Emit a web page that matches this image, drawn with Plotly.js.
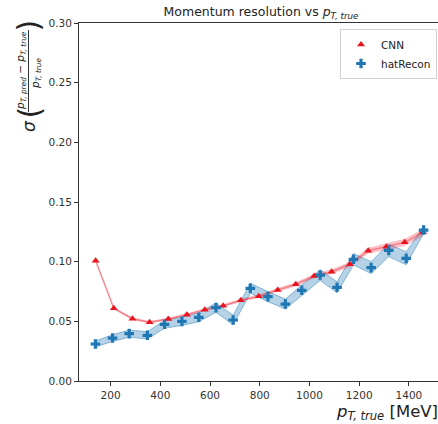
<!DOCTYPE html>
<html>
<head>
<meta charset="utf-8">
<script src="https://cdn.plot.ly/plotly-3.0.1.min.js"></script>
<style>
html,body{margin:0;padding:0;overflow:hidden;background:#fff;}
#chart{width:440px;height:424px;}
</style>
</head>
<body>
<div id="chart"></div>
<script>
// CNN series
const cnnX = [140,213,288,357,432,507,579,653,724,796,872,945,1019,1089,1163,1236,1309,1383,1457];
const cnnY = [0.1008,0.0609,0.0522,0.0492,0.0520,0.0556,0.0598,0.0631,0.0676,0.0710,0.0763,0.0810,0.0880,0.0916,0.0978,0.1092,0.1126,0.1162,0.1246];
const cnnErr = [0.0008,0.0009,0.0010,0.0010,0.0011,0.0012,0.0012,0.0013,0.0014,0.0015,0.0016,0.0018,0.0019,0.0020,0.0022,0.0025,0.0028,0.0030,0.0030];
// hatRecon series
const recX = [139,208,275,348,417,487,555,624,693,762,833,903,969,1043,1111,1177,1248,1319,1389,1459];
const recY = [0.0310,0.0360,0.0397,0.0383,0.0475,0.0500,0.0534,0.0615,0.0511,0.0777,0.0707,0.0645,0.0760,0.0888,0.0785,0.1020,0.0950,0.1095,0.1028,0.1265];
const recErr = [0.0025,0.0028,0.0030,0.0030,0.0033,0.0035,0.0037,0.0039,0.0041,0.0042,0.0042,0.0042,0.0044,0.0045,0.0046,0.0048,0.0050,0.0052,0.0054,0.0030];
// axis ticks
const xTicks = [200,400,600,800,1000,1200,1400];
const yTicks = [0.00,0.05,0.10,0.15,0.20,0.25,0.30];

const RED = '#e8141e';
const BLUE = '#1f77b4';
const FONT = 'DejaVu Sans';

const recLo = recY.map((v,i)=>v-recErr[i]);
const recHi = recY.map((v,i)=>v+recErr[i]);
const cnnLo = cnnY.map((v,i)=>v-cnnErr[i]);
const cnnHi = cnnY.map((v,i)=>v+cnnErr[i]);

const traces = [
  // blue band
  {x:recX, y:recLo, mode:'lines', line:{color:'rgba(31,119,180,0.45)', width:1}, showlegend:false, hoverinfo:'skip'},
  {x:recX, y:recHi, mode:'lines', line:{color:'rgba(31,119,180,0.45)', width:1}, fill:'tonexty', fillcolor:'rgba(31,119,180,0.33)', showlegend:false, hoverinfo:'skip'},
  // red band
  {x:cnnX, y:cnnLo, mode:'lines', line:{color:'rgba(240,40,50,0.0)', width:0}, showlegend:false, hoverinfo:'skip'},
  {x:cnnX, y:cnnHi, mode:'lines', line:{color:'rgba(240,40,50,0.0)', width:0}, fill:'tonexty', fillcolor:'rgba(240,40,60,0.28)', showlegend:false, hoverinfo:'skip'},
  // red line
  {x:cnnX, y:cnnY, mode:'lines', line:{color:'rgba(240,40,50,0.45)', width:1.5}, showlegend:false, hoverinfo:'skip'},
  // markers
  {x:cnnX, y:cnnY, name:'CNN', mode:'markers', marker:{symbol:'triangle-up', size:7, color:RED}},
  {x:recX, y:recY, name:'hatRecon', mode:'markers', marker:{symbol:'cross', size:8, color:BLUE}}
];

const W = 440, H = 424, L = 79, T = 23, B = 43;
const pw = W - L, ph = H - T - B;
const px = v => (v - L) / pw;
const py = v => (H - B - v) / ph;

const layout = {
  width: W, height: H,
  margin: {l:L, r:0, t:T, b:B, pad:0},
  paper_bgcolor:'#fff', plot_bgcolor:'#fff',
  font: {family: FONT, size: 10.5, color:'#333'},
  title: {text:'Momentum resolution vs <i>p</i><sub><i>T, true</i></sub>', font:{family:FONT, size:12.5, color:'#222'}, x:(261)/W, xanchor:'center', xref:'container', y:1-12/H, yanchor:'middle', yref:'container'},
  xaxis: {range:[73,1525], tickvals:xTicks, ticktext:xTicks.map(String), showgrid:false, zeroline:false, showline:true, mirror:true, linecolor:'#333', linewidth:1, ticks:'outside', ticklen:4, tickcolor:'#333', tickfont:{size:10.5, color:'#333'}},
  yaxis: {range:[0,0.30], tickvals:yTicks, ticktext:yTicks.map(v=>v.toFixed(2)), showgrid:false, zeroline:false, showline:true, mirror:true, linecolor:'#333', linewidth:1, ticks:'outside', ticklen:4, tickcolor:'#333', tickfont:{size:10.5, color:'#333'}},
  legend: {x:px(437), xanchor:'right', y:py(29), yanchor:'top', traceorder:'normal', bordercolor:'#d0d0d0', borderwidth:1, bgcolor:'rgba(255,255,255,0.8)', font:{size:10.5, color:'#222'}, tracegroupgap:0},
  shapes: [
    {type:'line', xref:'paper', yref:'paper', x0:px(28.5), x1:px(28.5), y0:py(30), y1:py(112), line:{color:'#333', width:1}}
  ],
  annotations: [
    {xref:'paper', yref:'paper', x:1, y:py(412), xanchor:'right', yanchor:'middle', showarrow:false, text:'<i>p</i><sub><i>T, true</i></sub> [MeV]', font:{family:FONT, size:16.5, color:'#222'}},
    {xref:'paper', yref:'paper', x:px(21), y:py(71), xanchor:'center', yanchor:'middle', textangle:-90, showarrow:false, text:'<i>p</i><sub><i>T, pred</i></sub> − <i>p</i><sub><i>T, true</i></sub>', font:{family:FONT, size:10.5, color:'#222'}},
    {xref:'paper', yref:'paper', x:px(36), y:py(73), xanchor:'center', yanchor:'middle', textangle:-90, showarrow:false, text:'<i>p</i><sub><i>T, true</i></sub>', font:{family:FONT, size:10.5, color:'#222'}},
    {xref:'paper', yref:'paper', x:px(29), y:py(126), xanchor:'center', yanchor:'middle', textangle:-90, showarrow:false, text:'<i>σ</i>', font:{family:FONT, size:17, color:'#222'}},
    {xref:'paper', yref:'paper', x:px(28.5), y:py(113), xanchor:'center', yanchor:'middle', textangle:-90, showarrow:false, text:'(', font:{family:FONT, size:30, color:'#222'}},
    {xref:'paper', yref:'paper', x:px(28.5), y:py(26), xanchor:'center', yanchor:'middle', textangle:-90, showarrow:false, text:')', font:{family:FONT, size:30, color:'#222'}}
  ]
};

Plotly.newPlot('chart', traces, layout, {displayModeBar:false, staticPlot:true});
</script>
</body>
</html>
